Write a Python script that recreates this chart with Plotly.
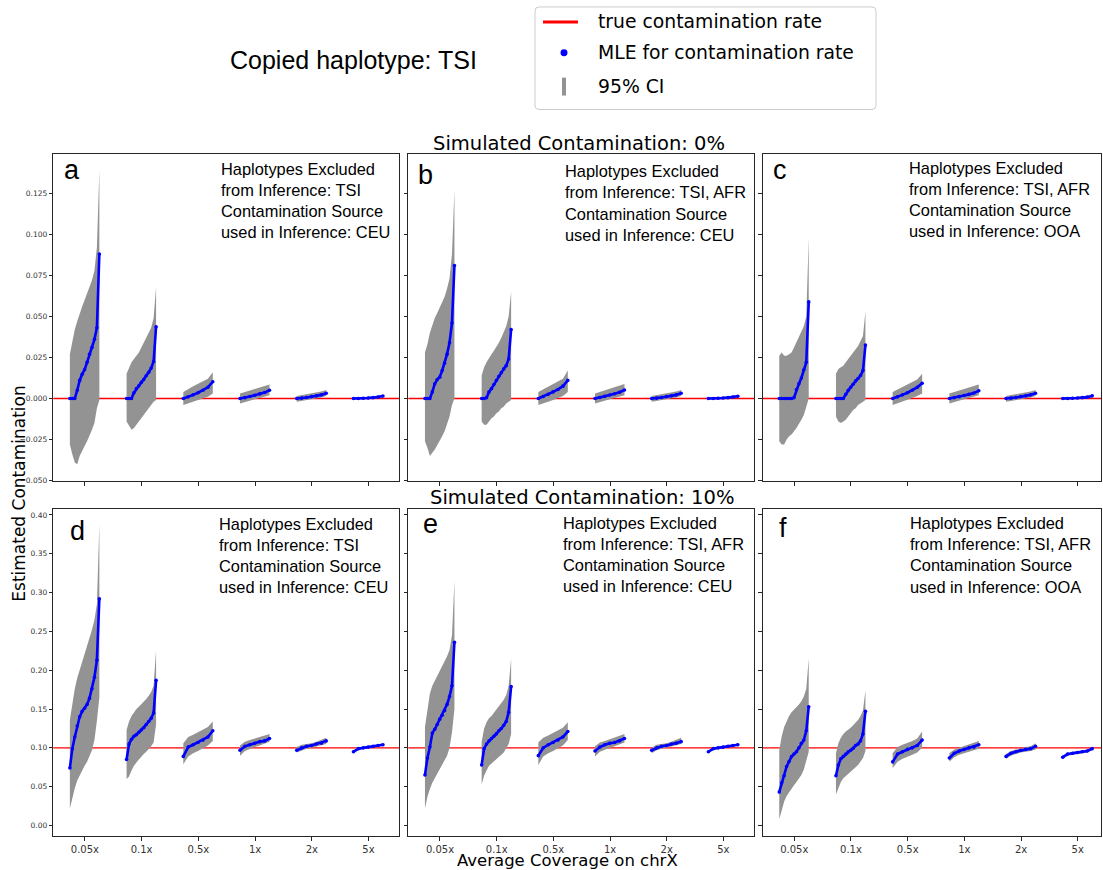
import numpy as np
import plotly.graph_objects as go

# ---------------------------------------------------------------------------
# Data: sorted MLE estimates and 95% CI bounds per coverage level
# (each inner list runs from the lowest to the highest replicate estimate)
# ---------------------------------------------------------------------------
COVERAGE = ["0.05x", "0.1x", "0.5x", "1x", "2x", "5x"]
TRUE_RATE = [0.0, 0.10]          # simulated contamination, top row / bottom row

MLE_A = [
    [0, 0, 0, 0.005, 0.011, 0.0148, 0.0175, 0.022, 0.027, 0.031, 0.036, 0.043, 0.088],
    [0, 0, 0, 0.0035, 0.006, 0.0077, 0.0098, 0.0115, 0.0138, 0.016, 0.0185, 0.0225, 0.0437],
    [0.0, 0.0010, 0.0022, 0.0035, 0.0050, 0.0068, 0.0102],
    [0.0, 0.0005, 0.0012, 0.0020, 0.0028, 0.0036, 0.0050],
    [0.0, 0.0002, 0.0006, 0.0011, 0.0016, 0.0022, 0.0032],
    [0.0, 0.0, 0.0001, 0.0003, 0.0005, 0.0008, 0.0015],
]
LO_A = [
    [-0.028, -0.034, -0.039, -0.040, -0.035, -0.032, -0.029, -0.026, -0.023, -0.019, -0.015, -0.006, -0.001],
    [-0.014, -0.016, -0.019, -0.018, -0.016, -0.014, -0.012, -0.010, -0.008, -0.006, -0.004, -0.002, -0.001],
    [-0.004, -0.003, -0.002, -0.001, 0.000, 0.001, 0.003],
    [-0.003, -0.002, -0.0012, -0.0005, 0.0003, 0.001, 0.002],
    [-0.002, -0.0016, -0.0011, -0.0006, 0.0, 0.0006, 0.0015],
    [-0.0007, -0.0006, -0.0005, -0.0003, -0.0001, 0.0002, 0.0008],
]
HI_A = [
    [0.027, 0.035, 0.042, 0.047, 0.052, 0.056, 0.060, 0.064, 0.068, 0.072, 0.078, 0.092, 0.139],
    [0.015, 0.019, 0.022, 0.024, 0.026, 0.028, 0.031, 0.034, 0.036, 0.039, 0.043, 0.049, 0.068],
    [0.004, 0.006, 0.0075, 0.009, 0.0105, 0.012, 0.016],
    [0.003, 0.0038, 0.0048, 0.0058, 0.0067, 0.0075, 0.0085],
    [0.0015, 0.002, 0.0025, 0.003, 0.0036, 0.0043, 0.0052],
    [0.0007, 0.0007, 0.0008, 0.001, 0.0012, 0.0015, 0.0023],
]

MLE_B = [
    [0, 0, 0, 0.004, 0.009, 0.0115, 0.013, 0.017, 0.0215, 0.027, 0.034, 0.046, 0.081],
    [0, 0, 0.0005, 0.004, 0.006, 0.0085, 0.011, 0.0135, 0.0158, 0.018, 0.020, 0.024, 0.042],
    [0.0, 0.0012, 0.0025, 0.0040, 0.0055, 0.0075, 0.0110],
    [0.0, 0.0006, 0.0013, 0.0021, 0.0029, 0.0038, 0.0052],
    [0.0, 0.0002, 0.0006, 0.0011, 0.0016, 0.0022, 0.0032],
    [0.0, 0.0, 0.0001, 0.0003, 0.0005, 0.0008, 0.0014],
]
LO_B = [
    [-0.026, -0.030, -0.035, -0.033, -0.031, -0.029, -0.026, -0.023, -0.020, -0.016, -0.011, -0.004, 0.0],
    [-0.014, -0.016, -0.016, -0.014, -0.012, -0.011, -0.009, -0.008, -0.006, -0.005, -0.003, -0.002, -0.001],
    [-0.004, -0.003, -0.002, -0.001, 0.0, 0.0015, 0.004],
    [-0.003, -0.002, -0.0012, -0.0005, 0.0003, 0.001, 0.002],
    [-0.002, -0.0016, -0.0011, -0.0006, 0.0, 0.0006, 0.0015],
    [-0.0007, -0.0006, -0.0005, -0.0003, -0.0001, 0.0002, 0.0007],
]
HI_B = [
    [0.028, 0.033, 0.040, 0.045, 0.049, 0.052, 0.055, 0.058, 0.062, 0.067, 0.073, 0.088, 0.127],
    [0.014, 0.019, 0.022, 0.025, 0.027, 0.029, 0.032, 0.034, 0.037, 0.040, 0.044, 0.050, 0.065],
    [0.004, 0.0055, 0.007, 0.0085, 0.010, 0.012, 0.017],
    [0.003, 0.004, 0.005, 0.006, 0.007, 0.0078, 0.0088],
    [0.0015, 0.002, 0.0025, 0.003, 0.0036, 0.0043, 0.0052],
    [0.0007, 0.0007, 0.0008, 0.001, 0.0012, 0.0015, 0.0022],
]

MLE_C = [
    [0, 0, 0, 0, 0, 0, 0.0005, 0.0055, 0.009, 0.0125, 0.0175, 0.022, 0.0588],
    [0, 0, 0, 0, 0.0025, 0.005, 0.0068, 0.0087, 0.0107, 0.0122, 0.014, 0.017, 0.0325],
    [0.0, 0.001, 0.0022, 0.0035, 0.005, 0.0068, 0.0093],
    [0.0, 0.0005, 0.0011, 0.0018, 0.0025, 0.0033, 0.0047],
    [0.0, 0.0002, 0.0006, 0.0011, 0.0016, 0.0022, 0.0032],
    [0.0, 0.0, 0.0001, 0.0003, 0.0005, 0.0008, 0.0016],
]
LO_C = [
    [-0.026, -0.028, -0.028, -0.025, -0.023, -0.022, -0.020, -0.018, -0.016, -0.013, -0.010, -0.005, 0.0],
    [-0.011, -0.014, -0.015, -0.014, -0.013, -0.011, -0.009, -0.007, -0.006, -0.004, -0.003, -0.002, -0.001],
    [-0.004, -0.0028, -0.0018, -0.0008, 0.0002, 0.0015, 0.003],
    [-0.003, -0.002, -0.0012, -0.0005, 0.0003, 0.001, 0.002],
    [-0.002, -0.0016, -0.0011, -0.0006, 0.0, 0.0006, 0.0015],
    [-0.0007, -0.0006, -0.0005, -0.0003, -0.0001, 0.0002, 0.0008],
]
HI_C = [
    [0.026, 0.028, 0.026, 0.026, 0.027, 0.028, 0.031, 0.034, 0.037, 0.040, 0.044, 0.050, 0.098],
    [0.015, 0.018, 0.019, 0.020, 0.022, 0.024, 0.026, 0.028, 0.030, 0.032, 0.035, 0.038, 0.053],
    [0.004, 0.0055, 0.007, 0.0085, 0.010, 0.0115, 0.015],
    [0.003, 0.0038, 0.0048, 0.0058, 0.0067, 0.0075, 0.0085],
    [0.0015, 0.002, 0.0025, 0.003, 0.0036, 0.0043, 0.0052],
    [0.0007, 0.0007, 0.0008, 0.001, 0.0012, 0.0015, 0.0023],
]

MLE_D = [
    [0.074, 0.099, 0.114, 0.128, 0.140, 0.147, 0.151, 0.156, 0.164, 0.176, 0.191, 0.213, 0.292],
    [0.085, 0.105, 0.111, 0.115, 0.117, 0.120, 0.123, 0.126, 0.130, 0.134, 0.138, 0.145, 0.187],
    [0.089, 0.101, 0.104, 0.107, 0.110, 0.114, 0.122],
    [0.097, 0.102, 0.104, 0.106, 0.108, 0.109, 0.112],
    [0.097, 0.100, 0.102, 0.103, 0.105, 0.106, 0.109],
    [0.095, 0.099, 0.100, 0.101, 0.102, 0.103, 0.104],
]
LO_D = [
    [0.022, 0.034, 0.048, 0.058, 0.065, 0.071, 0.077, 0.082, 0.089, 0.097, 0.110, 0.135, 0.165],
    [0.060, 0.063, 0.071, 0.077, 0.081, 0.085, 0.089, 0.092, 0.095, 0.098, 0.102, 0.107, 0.130],
    [0.079, 0.089, 0.093, 0.096, 0.099, 0.103, 0.109],
    [0.090, 0.096, 0.099, 0.101, 0.103, 0.105, 0.108],
    [0.094, 0.097, 0.099, 0.100, 0.101, 0.103, 0.105],
    [0.093, 0.097, 0.099, 0.100, 0.101, 0.102, 0.103],
]
HI_D = [
    [0.136, 0.158, 0.176, 0.190, 0.200, 0.210, 0.219, 0.229, 0.240, 0.252, 0.265, 0.285, 0.388],
    [0.123, 0.134, 0.141, 0.146, 0.150, 0.153, 0.156, 0.160, 0.163, 0.167, 0.172, 0.180, 0.226],
    [0.106, 0.114, 0.117, 0.120, 0.123, 0.127, 0.134],
    [0.103, 0.108, 0.110, 0.112, 0.114, 0.115, 0.118],
    [0.101, 0.104, 0.105, 0.106, 0.108, 0.110, 0.113],
    [0.097, 0.100, 0.101, 0.102, 0.103, 0.104, 0.106],
]

MLE_E = [
    [0.065, 0.087, 0.101, 0.119, 0.124, 0.130, 0.137, 0.142, 0.148, 0.156, 0.166, 0.180, 0.236],
    [0.078, 0.099, 0.105, 0.109, 0.112, 0.115, 0.118, 0.122, 0.125, 0.129, 0.134, 0.146, 0.179],
    [0.090, 0.100, 0.104, 0.107, 0.110, 0.114, 0.121],
    [0.096, 0.101, 0.104, 0.106, 0.107, 0.109, 0.112],
    [0.097, 0.100, 0.102, 0.103, 0.105, 0.106, 0.108],
    [0.095, 0.099, 0.100, 0.101, 0.102, 0.103, 0.104],
]
LO_E = [
    [0.022, 0.037, 0.047, 0.055, 0.062, 0.068, 0.073, 0.078, 0.084, 0.090, 0.100, 0.120, 0.150],
    [0.053, 0.064, 0.071, 0.077, 0.080, 0.083, 0.086, 0.088, 0.091, 0.094, 0.099, 0.105, 0.118],
    [0.078, 0.089, 0.093, 0.096, 0.099, 0.103, 0.110],
    [0.089, 0.095, 0.098, 0.100, 0.102, 0.104, 0.107],
    [0.093, 0.097, 0.099, 0.100, 0.101, 0.103, 0.105],
    [0.093, 0.097, 0.099, 0.100, 0.101, 0.102, 0.103],
]
HI_E = [
    [0.127, 0.150, 0.170, 0.180, 0.186, 0.192, 0.199, 0.205, 0.211, 0.218, 0.226, 0.245, 0.315],
    [0.108, 0.125, 0.133, 0.138, 0.141, 0.145, 0.149, 0.153, 0.157, 0.162, 0.168, 0.180, 0.215],
    [0.107, 0.113, 0.116, 0.119, 0.122, 0.126, 0.133],
    [0.102, 0.107, 0.109, 0.111, 0.113, 0.115, 0.118],
    [0.100, 0.104, 0.105, 0.106, 0.108, 0.110, 0.113],
    [0.097, 0.100, 0.101, 0.102, 0.103, 0.104, 0.106],
]

MLE_F = [
    [0.043, 0.055, 0.064, 0.076, 0.0825, 0.0888, 0.092, 0.095, 0.100, 0.106, 0.110, 0.122, 0.153],
    [0.064, 0.078, 0.086, 0.089, 0.092, 0.095, 0.097, 0.0995, 0.103, 0.105, 0.109, 0.118, 0.147],
    [0.082, 0.092, 0.095, 0.098, 0.100, 0.103, 0.110],
    [0.087, 0.093, 0.096, 0.098, 0.100, 0.101, 0.104],
    [0.089, 0.093, 0.095, 0.097, 0.098, 0.099, 0.102],
    [0.088, 0.092, 0.093, 0.094, 0.095, 0.096, 0.099],
]
LO_F = [
    [0.008, 0.020, 0.031, 0.038, 0.043, 0.047, 0.052, 0.056, 0.060, 0.065, 0.072, 0.082, 0.095],
    [0.040, 0.049, 0.056, 0.061, 0.064, 0.067, 0.070, 0.072, 0.075, 0.078, 0.082, 0.087, 0.096],
    [0.074, 0.082, 0.086, 0.089, 0.091, 0.094, 0.100],
    [0.082, 0.088, 0.091, 0.093, 0.095, 0.097, 0.099],
    [0.086, 0.090, 0.092, 0.094, 0.095, 0.096, 0.098],
    [0.086, 0.090, 0.091, 0.092, 0.093, 0.094, 0.097],
]
HI_F = [
    [0.097, 0.115, 0.127, 0.135, 0.141, 0.146, 0.149, 0.152, 0.156, 0.160, 0.166, 0.176, 0.215],
    [0.093, 0.106, 0.113, 0.118, 0.121, 0.123, 0.126, 0.129, 0.132, 0.136, 0.141, 0.148, 0.174],
    [0.093, 0.101, 0.104, 0.106, 0.109, 0.112, 0.121],
    [0.093, 0.098, 0.100, 0.102, 0.104, 0.106, 0.109],
    [0.092, 0.096, 0.098, 0.099, 0.101, 0.102, 0.106],
    [0.090, 0.093, 0.095, 0.096, 0.097, 0.098, 0.101],
]

LETTERS = ["a", "b", "c", "d", "e", "f"]
EXCLUDED = ["TSI", "TSI, AFR", "TSI, AFR", "TSI", "TSI, AFR", "TSI, AFR"]
SOURCE = ["CEU", "CEU", "OOA", "CEU", "CEU", "OOA"]
ROW_TITLES = ["Simulated Contamination: 0%", "Simulated Contamination: 10%"]

PANEL_DATA = [
    (MLE_A, LO_A, HI_A), (MLE_B, LO_B, HI_B), (MLE_C, LO_C, HI_C),
    (MLE_D, LO_D, HI_D), (MLE_E, LO_E, HI_E), (MLE_F, LO_F, HI_F),
]

# ---------------------------------------------------------------------------
# Geometry (pixels of a 1103 x 870 canvas)
# ---------------------------------------------------------------------------
W, H = 1103, 870


def fx(x):
    return x / W


def fy(y):
    return 1 - y / H


COL_PX = [(53.3, 399.3), (408.3, 754.0), (762.7, 1101.0)]
ROW_PX = [(155.0, 483.3), (511.7, 840.0)]
X_RANGES = [[-0.557, 5.543], [-0.559, 5.54], [-0.557, 5.41]]
Y_RANGES = [[-0.0503, 0.1487], [-0.0137, 0.4072]]
Y_TICKS = [[-0.05, -0.025, 0, 0.025, 0.05, 0.075, 0.1, 0.125],
           [0, 0.05, 0.1, 0.15, 0.2, 0.25, 0.3, 0.35, 0.4]]
Y_FMT = [".3f", ".2f"]

# text block origin (left x, first line centre y) and letter baseline per panel
TEXT_POS = [(219.3, 169.5), (562.7, 172.0), (906.7, 168.5),
            (217.3, 526.0), (561.3, 525.0), (908.3, 525.5)]
LETTER_POS = [(61.7, 180), (416.0, 185), (771.0, 180),
              (68.3, 542.7), (420.7, 535.7), (776.7, 540)]

GREY = "#939393"
BLUE = "#0000ff"
AXC = "#262626"
ARIAL = "Liberation Sans, Arial, sans-serif"
DEJAVU = "DejaVu Sans, sans-serif"

fig = go.Figure()
layout = dict(
    width=W, height=H, margin=dict(l=0, r=0, t=0, b=0),
    paper_bgcolor="white", plot_bgcolor="white", showlegend=False,
)
shapes, annotations = [], []

for k in range(6):
    row, col = divmod(k, 3)
    sfx = "" if k == 0 else str(k + 1)
    xref, yref = "x" + sfx, "y" + sfx
    mle_groups, lo_groups, hi_groups = PANEL_DATA[k]

    # true contamination rate: horizontal red line across the panel
    shapes.append(dict(type="line", xref=xref + " domain", yref=yref,
                       x0=0, x1=1, y0=TRUE_RATE[row], y1=TRUE_RATE[row],
                       line=dict(color="red", width=1.3), layer="below"))

    for g in range(len(COVERAGE)):
        mle, lo, hi = mle_groups[g], lo_groups[g], hi_groups[g]
        xs = g + np.linspace(-0.265, 0.255, len(mle))
        # 95% CI band
        fig.add_trace(go.Scatter(
            x=np.concatenate([xs, xs[::-1]]),
            y=np.concatenate([hi, lo[::-1]]),
            fill="toself", fillcolor=GREY, mode="lines",
            line=dict(width=0, color=GREY), hoverinfo="skip",
            xaxis=xref, yaxis=yref))
        # MLE points
        fig.add_trace(go.Scatter(
            x=xs, y=mle, mode="lines+markers",
            line=dict(color=BLUE, width=2.6),
            marker=dict(color=BLUE, size=3.6),
            xaxis=xref, yaxis=yref))

    common = dict(showline=True, mirror=True, linecolor=AXC, linewidth=1,
                  ticks="outside", ticklen=3.5, tickwidth=1, tickcolor=AXC,
                  showgrid=False, zeroline=False, fixedrange=True)
    layout["xaxis" + sfx] = dict(
        common, domain=[fx(COL_PX[col][0]), fx(COL_PX[col][1])],
        range=X_RANGES[col], anchor=yref,
        tickmode="array", tickvals=list(range(len(COVERAGE))), ticktext=COVERAGE,
        showticklabels=(row == 1),
        tickfont=dict(family=DEJAVU, size=10, color="#333333"))
    layout["yaxis" + sfx] = dict(
        common, domain=[fy(ROW_PX[row][1]), fy(ROW_PX[row][0])],
        range=Y_RANGES[row], anchor=xref,
        tickmode="array", tickvals=Y_TICKS[row], tickformat=Y_FMT[row],
        showticklabels=(col == 0),
        tickfont=dict(family=DEJAVU, size=7.5, color="#333333"))

    # panel letter
    lx, lb = LETTER_POS[k]
    annotations.append(dict(
        text=LETTERS[k], x=fx(lx), y=fy(lb - 9.4), xref="paper", yref="paper",
        xanchor="left", yanchor="middle", showarrow=False,
        font=dict(family=ARIAL, size=27, color="black")))

    # panel description
    tx, ty = TEXT_POS[k]
    lines = ["Haplotypes Excluded",
             "from Inference: " + EXCLUDED[k],
             "Contamination Source",
             "used in Inference: " + SOURCE[k]]
    for i, line in enumerate(lines):
        annotations.append(dict(
            text=line, x=fx(tx), y=fy(ty + i * 21.3), xref="paper", yref="paper",
            xanchor="left", yanchor="middle", showarrow=False,
            font=dict(family=ARIAL, size=16.4, color="black")))

# row titles
annotations.append(dict(text=ROW_TITLES[0], x=fx(579), y=fy(144), xref="paper",
                        yref="paper", xanchor="center", yanchor="middle",
                        showarrow=False, font=dict(family=DEJAVU, size=19.5, color="black")))
annotations.append(dict(text=ROW_TITLES[1], x=fx(582), y=fy(500), xref="paper",
                        yref="paper", xanchor="center", yanchor="middle",
                        showarrow=False, font=dict(family=DEJAVU, size=19.5, color="black")))

# axis titles
annotations.append(dict(text="Estimated Contamination", x=fx(19), y=fy(496),
                        xref="paper", yref="paper", textangle=-90,
                        xanchor="center", yanchor="middle", showarrow=False,
                        font=dict(family=DEJAVU, size=17, color="black")))
annotations.append(dict(text="Average Coverage on chrX", x=fx(567), y=fy(864),
                        xref="paper", yref="paper", xanchor="center",
                        yanchor="middle", showarrow=False,
                        font=dict(family=DEJAVU, size=16.5, color="black")))

# figure title
annotations.append(dict(text="Copied haplotype: TSI", x=fx(353), y=fy(60),
                        xref="paper", yref="paper", xanchor="center",
                        yanchor="middle", showarrow=False,
                        font=dict(family=ARIAL, size=25, color="black")))

# legend box
lx0, lx1, ly0, ly1, r = 535, 876, 7, 110, 4
path = (f"M {fx(lx0 + r)},{fy(ly0)} L {fx(lx1 - r)},{fy(ly0)} "
        f"Q {fx(lx1)},{fy(ly0)} {fx(lx1)},{fy(ly0 + r)} "
        f"L {fx(lx1)},{fy(ly1 - r)} Q {fx(lx1)},{fy(ly1)} {fx(lx1 - r)},{fy(ly1)} "
        f"L {fx(lx0 + r)},{fy(ly1)} Q {fx(lx0)},{fy(ly1)} {fx(lx0)},{fy(ly1 - r)} "
        f"L {fx(lx0)},{fy(ly0 + r)} Q {fx(lx0)},{fy(ly0)} {fx(lx0 + r)},{fy(ly0)} Z")
shapes.append(dict(type="path", path=path, xref="paper", yref="paper",
                   line=dict(color="#cccccc", width=1), fillcolor="white"))
shapes.append(dict(type="line", xref="paper", yref="paper",
                   x0=fx(543), x1=fx(578), y0=fy(22), y1=fy(22),
                   line=dict(color="red", width=3)))
shapes.append(dict(type="circle", xref="paper", yref="paper",
                   x0=fx(560.5), x1=fx(567.5), y0=fy(49.5), y1=fy(56.5),
                   line=dict(width=0), fillcolor=BLUE))
shapes.append(dict(type="rect", xref="paper", yref="paper",
                   x0=fx(562), x1=fx(566), y0=fy(78), y1=fy(96),
                   line=dict(width=0), fillcolor=GREY))
for label, yy in [("true contamination rate", 22),
                  ("MLE for contamination rate", 53),
                  ("95% CI", 87)]:
    annotations.append(dict(text=label, x=fx(596), y=fy(yy), xref="paper",
                            yref="paper", xanchor="left", yanchor="middle",
                            showarrow=False,
                            font=dict(family=DEJAVU, size=18.8, color="black")))

layout["shapes"] = shapes
layout["annotations"] = annotations
fig.update_layout(**layout)
fig.write_html("out.html")
